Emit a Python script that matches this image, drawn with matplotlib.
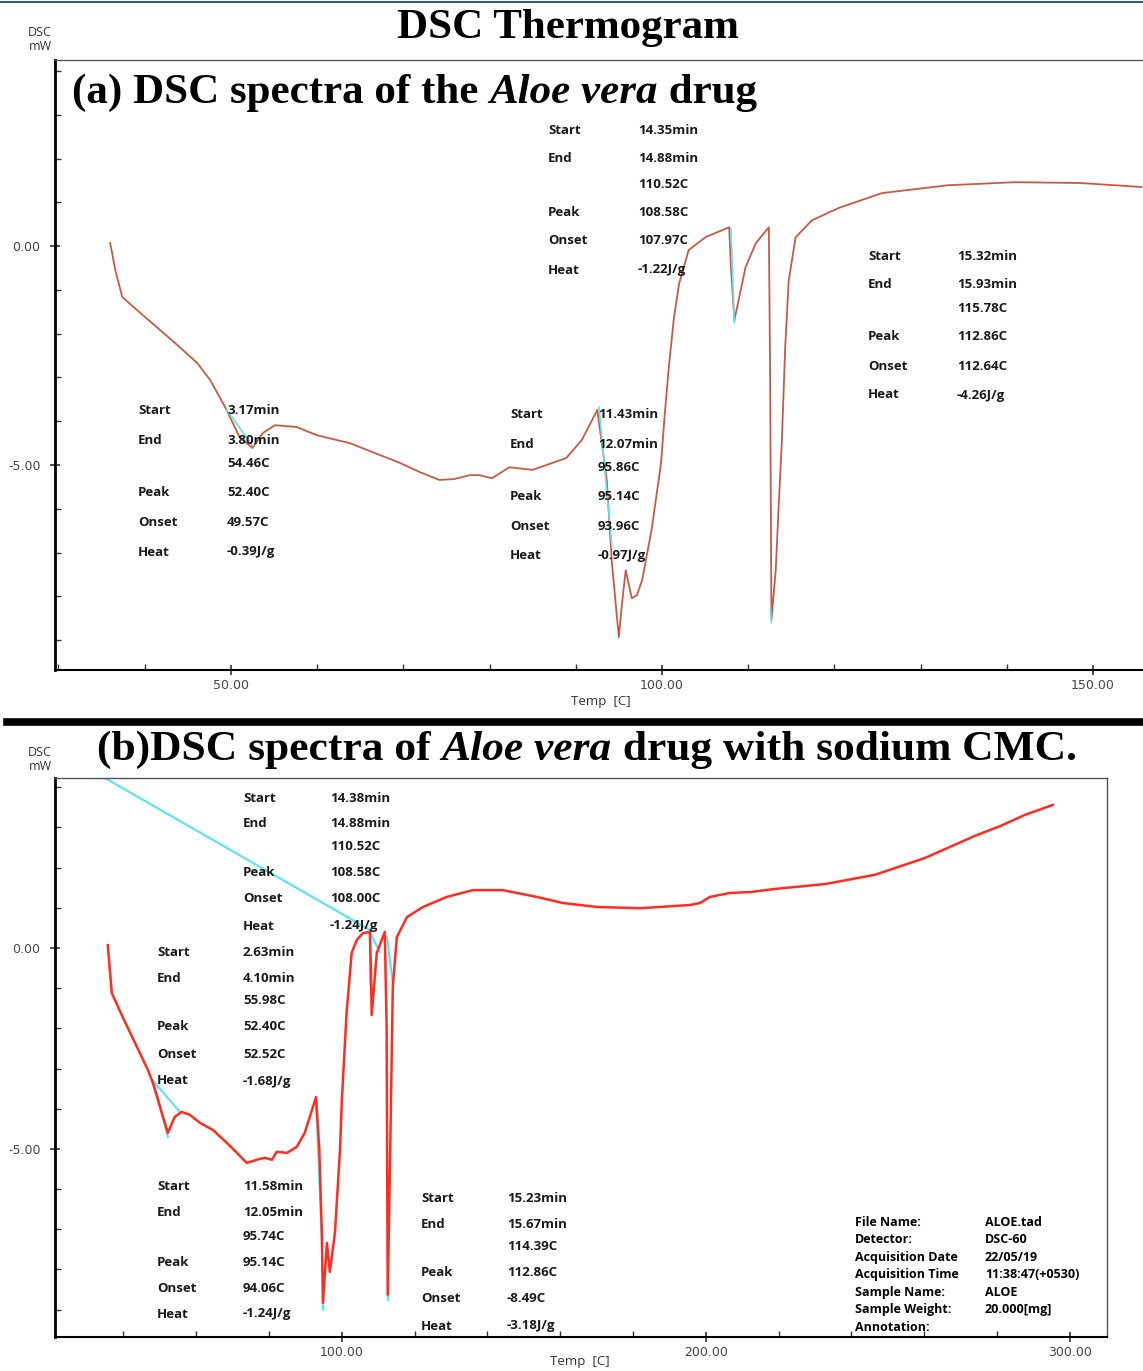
import numpy as np
import matplotlib
matplotlib.use("Agg")
from matplotlib import pyplot as plt
from matplotlib.ticker import MultipleLocator, FixedLocator

# ---- data ----
temp_a = [36.0, 36.6, 37.4, 38.7, 41.4, 43.8, 46.1, 47.6, 48.7, 49.5, 51.0, 52.5, 53.7, 55.1,
          57.6, 60.0, 63.8, 69.6, 71.9, 74.2, 75.9, 77.7, 78.8, 80.3, 82.3, 85.0, 88.9, 90.7,
          92.5, 93.6, 94.2, 94.7, 95.0, 95.4, 95.8, 96.5, 97.1, 97.7, 98.8, 99.9, 100.3,
          100.8, 101.4, 102.0, 103.1, 105.1, 107.8, 108.0, 108.4, 108.9, 109.7, 110.9,
          112.4, 112.55, 112.7, 113.2, 113.5, 113.9, 114.3, 114.7, 115.5, 117.4, 120.5,
          125.5, 133.2, 141.0, 148.6, 155.6]
dsc_a = [0.07, -0.55, -1.16, -1.39, -1.85, -2.26, -2.67, -3.06, -3.45, -3.74, -4.36, -4.61, -4.27, -4.09,
         -4.13, -4.32, -4.50, -4.95, -5.16, -5.34, -5.32, -5.23, -5.23, -5.30, -5.05, -5.11, -4.84, -4.43,
         -3.74, -5.34, -7.24, -8.30, -8.93, -8.10, -7.40, -8.04, -7.97, -7.63, -6.48, -4.95, -3.90,
         -2.76, -1.62, -0.85, -0.09, 0.21, 0.43, -0.48, -1.69, -1.23, -0.48, 0.07,
         0.43, -3.00, -8.54, -7.40, -6.10, -4.50, -2.30, -0.80, 0.20, 0.59, 0.87,
         1.21, 1.39, 1.46, 1.44, 1.35]

temp_b = [35.7, 36.8, 39.8, 43.7, 46.7, 48.1, 50.2, 52.2, 54.1, 56.0, 58.2, 61.0, 64.6, 68.4,
          71.2, 73.9, 76.6, 78.8, 80.8, 82.1, 84.9, 87.6, 89.8, 91.8, 92.9, 93.8, 94.5, 94.8,
          95.9, 96.7, 98.1, 99.5, 100.0, 101.3, 102.7, 104.1, 105.8, 107.7, 108.0, 108.2,
          109.6, 111.8, 112.3, 112.6, 113.2, 114.0, 115.1, 117.9, 122.3, 128.8, 136.0, 144.2,
          153.6, 160.7, 170.1, 181.9, 195.6, 198.4, 201.1, 206.6, 212.1, 219.0, 232.7, 246.4,
          260.2, 273.9, 280.8, 287.6, 295.3]
dsc_b = [0.07, -1.12, -1.72, -2.46, -3.03, -3.36, -4.00, -4.60, -4.20, -4.08, -4.15, -4.35, -4.53, -4.85,
         -5.10, -5.35, -5.27, -5.22, -5.27, -5.07, -5.10, -4.95, -4.60, -4.03, -3.71, -5.00, -7.09, -8.83,
         -7.34, -8.06, -7.09, -5.02, -3.78, -1.62, -0.12, 0.20, 0.37, 0.40, -0.60, -1.67,
         -0.12, 0.40, -2.00, -8.63, -5.50, -0.97, 0.27, 0.77, 1.02, 1.27, 1.44, 1.44,
         1.27, 1.12, 1.02, 0.99, 1.07, 1.12, 1.27, 1.37, 1.39, 1.47, 1.59, 1.82,
         2.24, 2.79, 3.03, 3.31, 3.56]

# integration baselines (cyan)
base_a = [([49.5, 52.5], [-3.74, -4.55]), ([92.7, 94.2], [-3.68, -6.87]),
          ([108.0, 108.4], [0.40, -1.75]), ([112.6, 112.7], [-8.3, -8.6])]
base_b = [([34.9, 107.7], [4.23, 0.45]), ([48.1, 55.5], [-3.30, -4.08]),
          ([48.6, 52.2], [-3.40, -4.70]), ([92.9, 94.5], [-3.73, -7.20]),
          ([94.8, 94.9], [-8.80, -9.00]), ([107.7, 107.8], [0.45, -0.90]),
          ([107.7, 110.4], [0.40, -0.10]), ([112.4, 114.0], [0.27, -0.87]),
          ([112.6, 112.6], [-8.55, -8.75])]

labels = ["Start", "End", "", "Peak", "Onset", "Heat"]
ann_a = [["3.17min", "3.80min", "54.46C", "52.40C", "49.57C", "-0.39J/g"],
         ["11.43min", "12.07min", "95.86C", "95.14C", "93.96C", "-0.97J/g"],
         ["14.35min", "14.88min", "110.52C", "108.58C", "107.97C", "-1.22J/g"],
         ["15.32min", "15.93min", "115.78C", "112.86C", "112.64C", "-4.26J/g"]]
ann_b = [["14.38min", "14.88min", "110.52C", "108.58C", "108.00C", "-1.24J/g"],
         ["2.63min", "4.10min", "55.98C", "52.40C", "52.52C", "-1.68J/g"],
         ["11.58min", "12.05min", "95.74C", "95.14C", "94.06C", "-1.24J/g"],
         ["15.23min", "15.67min", "114.39C", "112.86C", "-8.49C", "-3.18J/g"]]
info_keys = ["File Name:", "Detector:", "Acquisition Date", "Acquisition Time",
             "Sample Name:", "Sample Weight:", "Annotation:"]
info_vals = ["ALOE.tad", "DSC-60", "22/05/19", "11:38:47(+0530)", "ALOE", "20.000[mg]", ""]

W, H = 1143, 1371
SANS = ["Open Sans", "DejaVu Sans"]
SERIF = ["Liberation Serif", "DejaVu Serif"]


def fx(px):
    return px / W


def fy(py):
    return 1 - py / H


def block(fig, xl, xv, ys, vals):
    for lab, val, y in zip(labels, vals, ys):
        fig.text(fx(xl), fy(y), lab, fontsize=9.5, fontweight="bold", family=SANS,
                 va="center", color="#1a1a1a")
        fig.text(fx(xv), fy(y), val, fontsize=9.5, fontweight="bold", family=SANS,
                 va="center", color="#1a1a1a")


def rich(fig, x_px, y_px, parts, size=31):
    r = fig.canvas.get_renderer()
    x = x_px
    for s, style in parts:
        t = fig.text(fx(x), fy(y_px), s, fontsize=size, fontweight="bold", fontstyle=style,
                     family=SERIF, va="center", ha="left")
        x += t.get_window_extent(r).width


def style_axes(ax, xmaj, xmin):
    ax.xaxis.set_major_locator(FixedLocator(xmaj))
    ax.xaxis.set_minor_locator(MultipleLocator(xmin))
    ax.yaxis.set_major_locator(FixedLocator([0, -5]))
    ax.yaxis.set_minor_locator(MultipleLocator(1))
    ax.set_yticklabels(["0.00", "-5.00"])
    ax.set_xticklabels(["%.2f" % v for v in xmaj])
    ax.tick_params(which="major", direction="inout", length=7, width=1.2,
                   labelsize=9, labelcolor="#444444", color="#333333", pad=3)
    ax.tick_params(axis="y", which="major", pad=7)
    ax.tick_params(which="minor", direction="in", length=4, width=1, color="#333333")
    ax.spines["left"].set_linewidth(2)
    ax.spines["bottom"].set_linewidth(1.5)
    for s in ["top", "right"]:
        ax.spines[s].set_linewidth(1)
        ax.spines[s].set_color("#555555")


fig = plt.figure(figsize=(W / 100, H / 100), dpi=100)

# ---- panel (a) ----
ax1 = fig.add_axes([fx(55), fy(670), fx(1143) - fx(55), fy(60) - fy(670)])
ax1.plot(temp_a, dsc_a, color="#c85a45", lw=1.3, solid_joinstyle="round")
for xs, ys in base_a:
    ax1.plot(xs, ys, color="#5fe3ee", lw=1.2)
ax1.set_xlim(29.6, 155.8)
ax1.set_ylim(-9.68, 4.25)
style_axes(ax1, [50, 100, 150], 10)
ax1.spines["right"].set_visible(False)

# ---- panel (b) ----
ax2 = fig.add_axes([fx(55), fy(1337), fx(1107) - fx(55), fy(778) - fy(1337)])
for xs, ys in base_b:
    ax2.plot(xs, ys, color="#5fe3ee", lw=1.6)
ax2.plot(temp_b, dsc_b, color="#ff2d1f", lw=1.8, solid_joinstyle="round")
ax2.set_xlim(21.2, 310.2)
ax2.set_ylim(-9.68, 4.23)
style_axes(ax2, [100, 200, 300], 20)

# ---- texts ----
fig.text(fx(568), fy(28), "DSC Thermogram", fontsize=31, fontweight="bold",
         family=SERIF, ha="center", va="center")
rich(fig, 72, 93, [("(a) DSC spectra of the ", "normal"), ("Aloe vera", "italic"),
                   (" drug", "normal")])
rich(fig, 97, 750, [("(b)DSC spectra of ", "normal"), ("Aloe vera", "italic"),
                    (" drug with sodium CMC.", "normal")], size=31.3)

for yy in (40, 760):
    fig.text(fx(40), fy(yy), "DSC\nmW", fontsize=9, family=SANS, ha="center",
             va="center", color="#333333", linespacing=1.1)
fig.text(fx(601), fy(701), "Temp  [C]", fontsize=9.5, family=SANS, ha="center",
         va="center", color="#333333")
fig.text(fx(580), fy(1362), "Temp  [C]", fontsize=9.5, family=SANS, ha="center",
         va="center", color="#333333")

block(fig, 138, 227, [411, 440, 464, 493, 522, 552], ann_a[0])
block(fig, 510, 598, [415, 444, 468, 497, 526, 556], ann_a[1])
block(fig, 548, 638, [131, 159, 184, 212, 241, 270], ann_a[2])
block(fig, 868, 957, [256, 284, 309, 337, 366, 395], ann_a[3])

block(fig, 243, 330, [798, 824, 847, 873, 899, 926], ann_b[0])
block(fig, 157, 243, [953, 979, 1001, 1027, 1054, 1081], ann_b[1])
block(fig, 157, 243, [1187, 1213, 1236, 1262, 1288, 1314], ann_b[2])
block(fig, 421, 507, [1198, 1224, 1247, 1273, 1299, 1326], ann_b[3])

for i, (k, v) in enumerate(zip(info_keys, info_vals)):
    y = 1222 + i * 17.6
    fig.text(fx(855), fy(y), k, fontsize=9, fontweight="bold", family=SANS, va="center")
    fig.text(fx(985), fy(y), v, fontsize=9, fontweight="bold", family=SANS, va="center")

# frame lines
fig.add_artist(plt.Line2D([0, 1], [fy(2), fy(2)], color="#3d5a73", lw=1.5))
fig.add_artist(plt.Line2D([fx(7), 1], [fy(722), fy(722)], color="black", lw=5.5))

fig.savefig("out.png", dpi=100)
